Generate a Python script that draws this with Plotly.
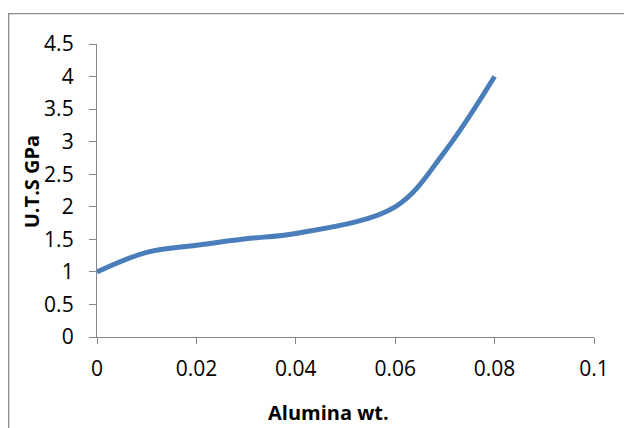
import plotly.graph_objects as go

alumina_wt = [0.0, 0.01, 0.02, 0.03, 0.04, 0.06, 0.07, 0.08]
uts_gpa = [1.0, 1.3, 1.41, 1.51, 1.59, 2.0, 2.85, 4.0]
x_ticks = [0, 0.02, 0.04, 0.06, 0.08, 0.1]
x_tick_text = ["0", "0.02", "0.04", "0.06", "0.08", "0.1"]
y_ticks = [0, 0.5, 1, 1.5, 2, 2.5, 3, 3.5, 4, 4.5]
y_tick_text = ["0", "0.5", "1", "1.5", "2", "2.5", "3", "3.5", "4", "4.5"]

W, H = 624, 428
L, R, T, B = 97, 30, 43.5, 91
pw, ph = W - L - R, H - T - B

FONT = "Open Sans"
AXC = "#868686"

fig = go.Figure()
fig.add_trace(go.Scatter(
    x=alumina_wt, y=uts_gpa, mode="lines",
    line=dict(color="#4A7EBB", width=5, shape="spline", smoothing=1.0),
    showlegend=False, hoverinfo="skip", cliponaxis=False,
))

def px_to_paper_x(p):
    return (p - L) / pw

def px_to_paper_y(p):
    return (H - B - p) / ph

fig.update_layout(
    width=W, height=H,
    margin=dict(l=L, r=R, t=T, b=B, pad=0),
    paper_bgcolor="white", plot_bgcolor="white",
    font=dict(family=FONT, size=21, color="black"),
    xaxis=dict(
        range=[0, 0.1], tickmode="array", tickvals=x_ticks, ticktext=x_tick_text,
        showgrid=False, zeroline=False, showline=True, linecolor=AXC, linewidth=1.3,
        ticks="outside", ticklen=6, tickcolor=AXC, tickwidth=1.3,
        ticklabelstandoff=7,
        tickfont=dict(family=FONT, size=21, color="black"),
    ),
    yaxis=dict(
        range=[0, 4.5], tickmode="array", tickvals=y_ticks, ticktext=y_tick_text,
        showgrid=False, zeroline=False, showline=True, linecolor=AXC, linewidth=1.3,
        ticks="outside", ticklen=7, tickcolor=AXC, tickwidth=1.3,
        ticklabelstandoff=11,
        tickfont=dict(family=FONT, size=21, color="black"),
    ),
    shapes=[dict(
        type="rect", xref="paper", yref="paper",
        x0=px_to_paper_x(8.7), x1=px_to_paper_x(640),
        y0=px_to_paper_y(445), y1=px_to_paper_y(13),
        line=dict(color="#8c8c8c", width=1.3), fillcolor="rgba(0,0,0,0)",
        layer="below",
    )],
    annotations=[
        dict(text="<b>Alumina wt.</b>", xref="paper", yref="paper",
             x=px_to_paper_x(328), y=px_to_paper_y(413), showarrow=False,
             xanchor="center", yanchor="middle",
             font=dict(family=FONT, size=20, color="black")),
        dict(text="<b>U.T.S GPa</b>", xref="paper", yref="paper",
             x=px_to_paper_x(31), y=px_to_paper_y(182), showarrow=False,
             xanchor="center", yanchor="middle", textangle=-90,
             font=dict(family=FONT, size=20, color="black")),
    ],
)

fig.write_html("out.html")
